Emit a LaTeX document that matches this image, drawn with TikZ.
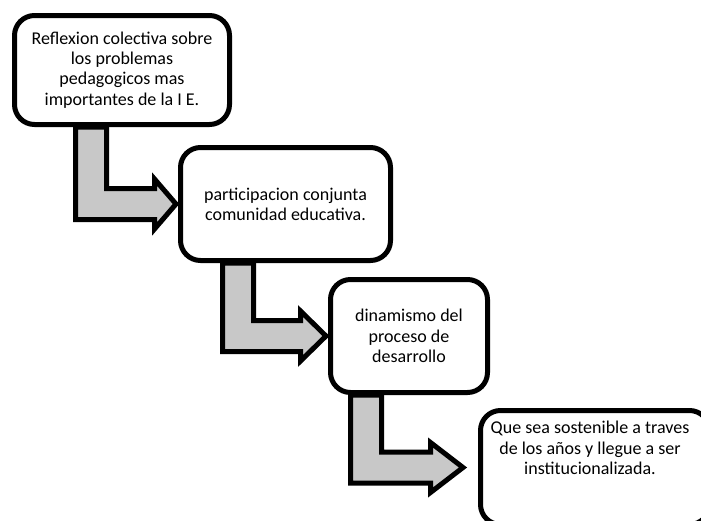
\documentclass[tikz,border=0pt]{standalone}
\usepackage{fontspec}
\setmainfont{Carlito}
\usetikzlibrary{calc}
\definecolor{arrowgrey}{HTML}{C8C8C8}
\newcommand{\BoxText}{\fontsize{18}{20.3}\selectfont}

\begin{document}
\begin{tikzpicture}[x=1pt, y=-1pt,
  font=\BoxText,
  stepbox/.style={draw=black, line width=5pt, rounded corners=20pt, fill=white,
                  align=center, inner sep=0pt},
  bentarrow/.style={draw=black, fill=arrowgrey, line width=5pt, line join=miter}
]
\useasboundingbox (0,0) rectangle (701,520);

% Steps, going down to the right.
\node[stepbox, minimum width=215pt, minimum height=109pt] (refl) at (122,70)
  {Reflexion colectiva sobre\\ los problemas\\ pedagogicos mas\\ importantes de la I E.};
\node[stepbox, minimum width=210pt, minimum height=113pt] (part) at (285.5,204)
  {participacion conjunta\\ comunidad educativa.};
\node[stepbox, minimum width=157pt, minimum height=113pt] (dina) at (409,336)
  {dinamismo del\\ proceso de\\ desarrollo};
\node[stepbox, minimum width=229pt, minimum height=114pt] (sust) at (595,467.5) {};
\node[align=center] (susttext) at ($(sust.center)+(-5,-19.5)$)
  {Que sea sostenible a traves\\ de los años y llegue a ser\\ institucionalizada.};

% Bent block arrows from each step to the next.
\foreach \src/\dst/\sx/\hx/\gap in {refl/part/75.5/154.5/2,
                                    part/dina/222.5/300.5/2,
                                    dina/sust/350.5/430.5/15}
  \draw[bentarrow] let \p1=(\src.south), \p2=(\dst.west) in
    ({\sx*1pt},\y1) -- ({\sx*1pt},{\y2-15.5pt}) -- ({\hx*1pt},{\y2-15.5pt})
    -- ({\hx*1pt},{\y2-25pt}) -- ({\x2-\gap*1pt},\y2) -- ({\hx*1pt},{\y2+25pt})
    -- ({\hx*1pt},{\y2+15.5pt}) -- ({\sx*1pt+31pt},{\y2+15.5pt})
    -- ({\sx*1pt+31pt},\y1) -- cycle;
\end{tikzpicture}
\end{document}
